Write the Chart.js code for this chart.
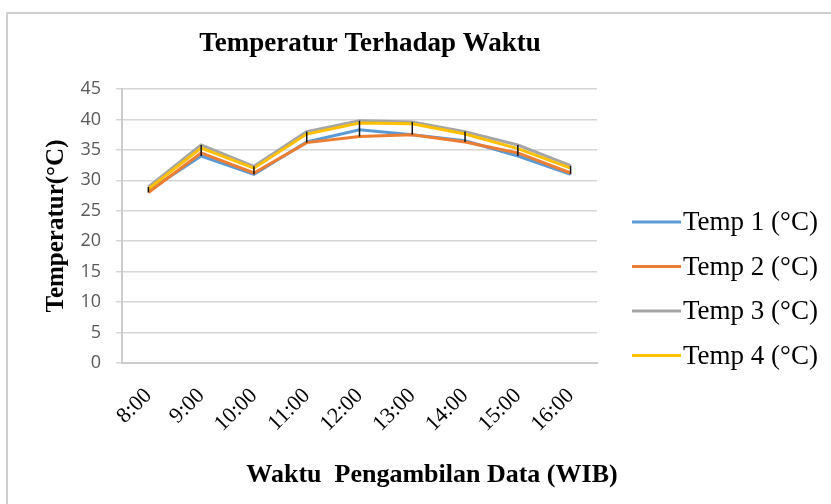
<!DOCTYPE html>
<html>
<head>
<meta charset="utf-8">
<script src="https://cdn.jsdelivr.net/npm/chart.js@4.4.1/dist/chart.umd.min.js"></script>
<style>
  html, body { margin: 0; padding: 0; background: #fff; }
  #wrap { position: relative; width: 831px; height: 504px; overflow: hidden; }
  #frame { position: absolute; left: 6px; top: 12px; width: 860px; height: 540px; border: 2px solid #cfcfcf; }
  #grafik { position: absolute; left: 0; top: 0; }
</style>
</head>
<body>
<div id="wrap">
  <div id="frame"></div>
  <canvas id="grafik" width="831" height="504"></canvas>
</div>
<script>
// Data suhu per jam
const jam = ['8:00', '9:00', '10:00', '11:00', '12:00', '13:00', '14:00', '15:00', '16:00'];
const temp1 = [28.3, 34.0, 31.0, 36.3, 38.3, 37.5, 36.5, 34.0, 31.0];
const temp2 = [28.0, 34.5, 31.2, 36.2, 37.2, 37.5, 36.3, 34.5, 31.2];
const temp3 = [28.9, 35.8, 32.3, 38.0, 39.8, 39.6, 38.0, 35.8, 32.4];
const temp4 = [28.6, 35.3, 32.0, 37.6, 39.4, 39.3, 37.6, 35.2, 32.0];
const yTicks = [0, 5, 10, 15, 20, 25, 30, 35, 40, 45];

const judul = 'Temperatur Terhadap Waktu';
const judulX = 'Waktu  Pengambilan Data (WIB)';
const judulY = 'Temperatur(°C)';

// garis high-low hitam di tiap jam
const garisHiLo = {
  id: 'garisHiLo',
  afterDatasetsDraw(chart) {
    const { ctx, scales: { x, y } } = chart;
    ctx.save();
    ctx.strokeStyle = '#111';
    ctx.lineWidth = 1.5;
    jam.forEach(function(j, i) {
      let nilai = chart.data.datasets.map(d => d.data[i]);
      let px = x.getPixelForValue(i);
      ctx.beginPath();
      ctx.moveTo(px, y.getPixelForValue(Math.max(...nilai)));
      ctx.lineTo(px, y.getPixelForValue(Math.min(...nilai)));
      ctx.stroke();
    });
    ctx.restore();
  }
};

// judul, judul sumbu x dan legenda
const teksTambahan = {
  id: 'teksTambahan',
  afterDraw(chart) {
    const ctx = chart.ctx;
    ctx.save();
    ctx.fillStyle = '#000';
    ctx.textAlign = 'center';
    ctx.textBaseline = 'middle';
    ctx.font = 'bold 27px "Liberation Serif"';
    ctx.fillText(judul, 370, 44);
    ctx.font = 'bold 26px "Liberation Serif"';
    ctx.fillText(judulX, 432, 475);

    ctx.textAlign = 'left';
    ctx.font = '27px "Liberation Serif"';
    chart.data.datasets.forEach(function(ds, i) {
      let yy = 222 + i * 44.5;
      ctx.strokeStyle = ds.borderColor;
      ctx.lineWidth = 3;
      ctx.beginPath();
      ctx.moveTo(632, yy);
      ctx.lineTo(681, yy);
      ctx.stroke();
      ctx.fillStyle = '#000';
      ctx.fillText(ds.label, 683, yy + 1);
    });
    ctx.restore();
  }
};

var ctxGrafik = document.getElementById('grafik').getContext('2d');
var grafik = new Chart(ctxGrafik, {
  type: 'line',
  data: {
    labels: jam,
    datasets: [
      { label: 'Temp 1 (°C)', data: temp1, borderColor: '#5B9BD5', order: 4 },
      { label: 'Temp 2 (°C)', data: temp2, borderColor: '#ED7D31', order: 3 },
      { label: 'Temp 3 (°C)', data: temp3, borderColor: '#A5A5A5', order: 2 },
      { label: 'Temp 4 (°C)', data: temp4, borderColor: '#FFC000', order: 1 }
    ]
  },
  options: {
    responsive: false,
    animation: { duration: 0 },
    elements: {
      line: { borderWidth: 3, tension: 0, fill: false },
      point: { radius: 0, hoverRadius: 0 }
    },
    layout: { padding: { left: 42, top: 89, right: 234, bottom: 41 } },
    plugins: {
      legend: { display: false },
      title: { display: false },
      tooltip: { enabled: false }
    },
    scales: {
      x: {
        offset: true,
        grid: { display: true, drawOnChartArea: false, drawTicks: false },
        border: { display: true, color: '#cccccc', width: 2 },
        ticks: {
          color: '#000',
          font: { family: 'Liberation Serif', size: 22 },
          minRotation: 45,
          maxRotation: 45,
          padding: 20
        },
        afterFit(scale) { scale.height = 100; }
      },
      y: {
        min: 0,
        max: 45,
        grid: { color: '#d6d6d6', lineWidth: 1.5, tickLength: 6 },
        border: { display: true, color: '#cccccc', width: 2 },
        afterBuildTicks(scale) { scale.ticks = yTicks.map(v => ({ value: v })); },
        ticks: {
          color: '#595959',
          font: { family: 'Open Sans', size: 18 },
          padding: 15
        },
        title: {
          display: true,
          text: judulY,
          color: '#000',
          font: { family: 'Liberation Serif', size: 25, weight: 'bold' },
          padding: { top: 0, bottom: 0 }
        },
        afterFit(scale) { scale.width = 80; }
      }
    }
  },
  plugins: [garisHiLo, teksTambahan]
});
</script>
</body>
</html>
